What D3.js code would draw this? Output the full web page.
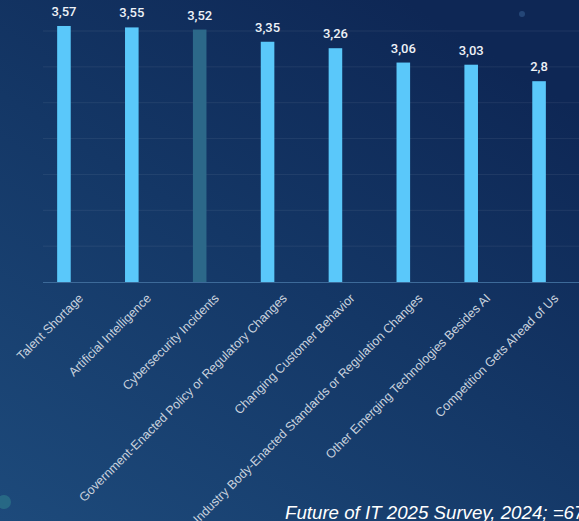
<!DOCTYPE html>
<html>
<head>
<meta charset="utf-8">
<script src="https://cdn.jsdelivr.net/npm/d3@7"></script>
<style>
  html, body { margin: 0; padding: 0; background: #12305f; }
  svg { display: block; }
</style>
</head>
<body>
<div id="chart"></div>
<script>
// chart data
const categories = [
    'Talent Shortage',
    'Artificial Intelligence',
    'Cybersecurity Incidents',
    'Government-Enacted Policy or Regulatory Changes',
    'Changing Customer Behavior',
    'Industry Body-Enacted Standards or Regulation Changes',
    'Other Emerging Technologies Besides AI',
    'Competition Gets Ahead of Us'
];
const values = [3.57, 3.55, 3.52, 3.35, 3.26, 3.06, 3.03, 2.8];
const valueLabels = ['3,57', '3,55', '3,52', '3,35', '3,26', '3,06', '3,03', '2,8'];
const highlighted = ['Cybersecurity Incidents'];
const gridValues = [0.5, 1, 1.5, 2, 2.5, 3, 3.5];
const footnote = 'Future of IT 2025 Survey, 2024; =67';

const width = 579, height = 521;

const svg = d3.select('#chart')
    .append('svg')
    .attr('width', width)
    .attr('height', height);

// background gradient
const defs = svg.append('defs');
const bg = defs.append('linearGradient')
    .attr('id', 'bg')
    .attr('x1', '0%').attr('y1', '100%')
    .attr('x2', '70%').attr('y2', '0%');
bg.append('stop').attr('offset', '0%').attr('stop-color', '#1d4a7b');
bg.append('stop').attr('offset', '55%').attr('stop-color', '#143766');
bg.append('stop').attr('offset', '100%').attr('stop-color', '#0e2755');

svg.append('rect')
    .attr('width', width)
    .attr('height', height)
    .attr('fill', 'url(#bg)');

// decorative dots
svg.append('circle')
    .attr('cx', 4).attr('cy', 502).attr('r', 7)
    .attr('fill', '#2a7088').attr('opacity', 0.8);
svg.append('circle')
    .attr('cx', 522).attr('cy', 14).attr('r', 3)
    .attr('fill', '#2d5486').attr('opacity', 0.7);

const x = d3.scaleBand()
    .domain(categories)
    .range([30, 573])
    .paddingInner(0.8)
    .paddingOuter(0.4);

const y = d3.scaleLinear()
    .domain([0, 3.5])
    .range([282, 31]);

// gridlines
svg.append('g')
    .selectAll('line')
    .data(gridValues)
    .enter()
    .append('line')
    .attr('x1', 43)
    .attr('x2', width)
    .attr('y1', d => y(d))
    .attr('y2', d => y(d))
    .attr('stroke', '#ffffff')
    .attr('stroke-opacity', 0.07)
    .attr('stroke-width', 1);

// bars
svg.append('g')
    .selectAll('rect')
    .data(categories)
    .enter()
    .append('rect')
    .attr('x', d => x(d))
    .attr('width', x.bandwidth())
    .attr('y', (d, i) => y(values[i]))
    .attr('height', (d, i) => y(0) - y(values[i]))
    .attr('fill', d => highlighted.includes(d) ? '#2c6889' : '#5ac8fa');

// baseline
svg.append('line')
    .attr('x1', 43)
    .attr('x2', width)
    .attr('y1', y(0) + 0.5)
    .attr('y2', y(0) + 0.5)
    .attr('stroke', '#3d6a99')
    .attr('stroke-width', 1);

// value labels
svg.append('g')
    .selectAll('text')
    .data(categories)
    .enter()
    .append('text')
    .attr('x', d => x(d) + x.bandwidth() / 2)
    .attr('y', (d, i) => y(values[i]) - 10)
    .attr('text-anchor', 'middle')
    .attr('font-family', 'Roboto, sans-serif')
    .attr('font-weight', 500)
    .attr('font-size', 13)
    .attr('fill', '#eef2f7')
    .text((d, i) => valueLabels[i]);

// category labels
svg.append('g')
    .selectAll('text')
    .data(categories)
    .enter()
    .append('text')
    .attr('transform', d => `translate(${x(d) + x.bandwidth() / 2 + 20},299) rotate(-45)`)
    .attr('text-anchor', 'end')
    .attr('font-family', 'Arial, "Liberation Sans", sans-serif')
    .attr('font-size', 12.5)
    .attr('fill', '#c9d2de')
    .text(d => d);

// footnote (cut off at the right edge, as in the source)
svg.append('text')
    .attr('x', 285)
    .attr('y', 519)
    .attr('font-family', 'Arial, "Liberation Sans", sans-serif')
    .attr('font-style', 'italic')
    .attr('font-size', 18.7)
    .attr('fill', '#ffffff')
    .text(footnote);
</script>
</body>
</html>
